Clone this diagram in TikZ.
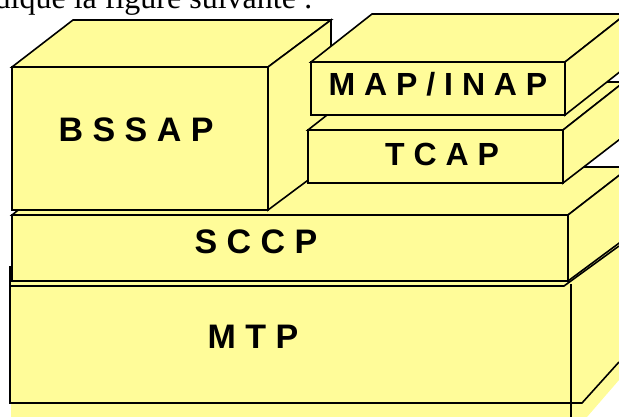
\documentclass[tikz,border=0pt]{standalone}
\usepackage{fontspec}
\setmainfont{Liberation Serif}
\setsansfont{Liberation Sans}
\definecolor{boxyellow}{RGB}{255,252,153}
\begin{document}
\begin{tikzpicture}[x=1pt,y=-1pt,
  face/.style={fill=boxyellow,draw=black,line width=1.6pt,line join=miter},
  edge/.style={draw=black,line width=1.6pt},
  lab/.style={font=\sffamily\bfseries\fontsize{34}{34}\selectfont,inner sep=0pt},
  labs/.style={font=\sffamily\bfseries\fontsize{32}{32}\selectfont,inner sep=0pt}]
\useasboundingbox (0,0) rectangle (619,417);
\clip (0,0) rectangle (619,417);
% heading text (cut off at the top)
\node[anchor=base east,inner sep=0pt,font=\fontsize{32}{32}\selectfont] (head) at (313,9) {indique la figure suivante :};
% MTP
\fill[boxyellow] (11,275) -- (571,275) -- (619,240) -- (619,380) -- (587,417) -- (11,417) -- cycle;
\draw[edge] (10,266) -- (10,403) -- (582,403) -- (619,362);
\draw[edge] (571,284) -- (571,417);
\draw[edge] (11,286) -- (564,286) -- (619,246);
% SCCP
\filldraw[face] (12,215) -- (73,167) -- (630,167) -- (568,215) -- cycle;
\filldraw[face] (568,215) -- (630,167) -- (630,235) -- (568,281) -- cycle;
\filldraw[face] (12,215) rectangle (568,281);
% BSSAP
\filldraw[face] (12,67) -- (73,20) -- (331,20) -- (268,67) -- cycle;
\filldraw[face] (268,67) -- (331,20) -- (331,163) -- (268,210) -- cycle;
\filldraw[face] (12,67) rectangle (268,210);
% TCAP
\filldraw[face] (308,130) -- (369,82) -- (624,82) -- (563,130) -- cycle;
\filldraw[face] (563,130) -- (624,82) -- (624,136) -- (563,183) -- cycle;
\filldraw[face] (308,130) rectangle (563,183);
% MAP / INAP
\filldraw[face] (311,62) -- (372,14) -- (626,14) -- (565,62) -- cycle;
\filldraw[face] (565,62) -- (626,14) -- (626,67) -- (565,115) -- cycle;
\filldraw[face] (311,62) rectangle (565,115);
% labels
\node[lab] (bssap) at (136,130) {B S S A P};
\node[labs] (map) at (438,84) {M A P / I N A P};
\node[labs] (tcap) at (442,154) {T C A P};
\node[lab] (sccp) at (256,242) {S C C P};
\node[lab] (mtp) at (253,337) {M T P};
\end{tikzpicture}
\end{document}
